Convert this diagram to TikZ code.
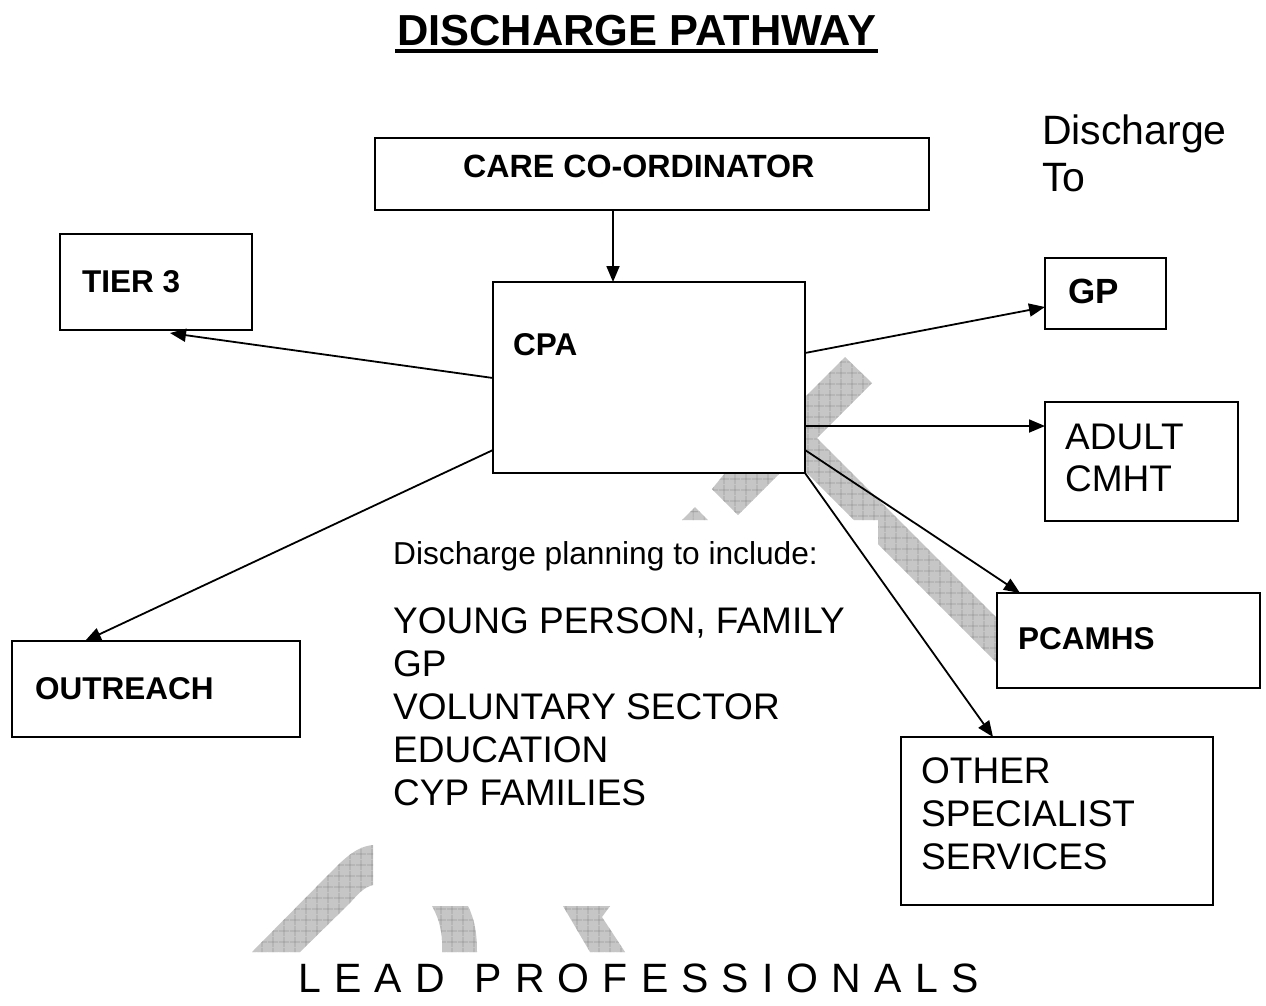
\documentclass[tikz,border=0pt]{standalone}
\usepackage{fontspec}
\setmainfont{Liberation Sans}
\usetikzlibrary{arrows.meta,calc,patterns.meta}
\begin{document}
\begin{tikzpicture}[x=1pt,y=-1pt,
  box/.style={draw=black,line width=2.3pt,fill=white,anchor=north west,inner sep=0pt,outer sep=0pt},
  blbl/.style={anchor=base west,inner sep=0pt,font=\fontsize{31.5}{38}\selectfont\bfseries},
  rlbl/.style={anchor=base west,inner sep=0pt,font=\fontsize{37}{44}\selectfont},
  arr/.style={line width=1.8pt,-{Triangle[length=16pt,width=13pt]}},
  wm/.style={fill=gray!45,postaction={pattern={Hatch[distance=10.5pt,angle=0,line width=0.7pt]},pattern color=black!40}}]
\fill[white] (0,0) rectangle (1266,1005);
\useasboundingbox (0,0) rectangle (1266,1005);
% watermark fragments
\fill[wm] (805,397) -- (845,357) -- (872,383) -- (817,438) -- (997,618) -- (997,663) -- (878,544) -- (878,520) -- (854,520) -- (805,471) -- cycle;
\fill[wm] (725,473) -- (780,473) -- (738,515) -- (712,489) -- cycle;
\fill[wm] (682,520) -- (695,507) -- (708,520) -- cycle;
\fill[wm] (252,952) -- (336,867) .. controls (352,851) and (362,846) .. (373,845) -- (373,885) .. controls (364,887) and (358,894) .. (350,903) -- (300,952) -- cycle;
\fill[wm] (432,906) -- (468,906) .. controls (475,920) and (477,935) .. (477,952) -- (442,952) .. controls (443,935) and (440,920) .. (432,906) -- cycle;
\fill[wm] (563,906) -- (610,906) -- (602,917) -- (625,952) -- (590,952) -- cycle;
% title
\node[anchor=base west,inner sep=0pt,font=\fontsize{43.4}{50}\selectfont\bfseries] (title) at (397,45) {DISCHARGE PATHWAY};
\draw[line width=4pt] ($(title.base west)+(-2,6)$) -- ($(title.base east)+(2,6)$);
% discharge to
\node[anchor=base west,inner sep=0pt,font=\fontsize{41}{48}\selectfont] (dt1) at (1042,144) {Discharge};
\node[anchor=base west,inner sep=0pt,font=\fontsize{41}{48}\selectfont] (dt2) at (1042,191) {To};
% boxes
\node[box,minimum width=554pt,minimum height=72pt] (care) at (375,138) {};
\node[box,minimum width=192pt,minimum height=96pt] (tier) at (60,234) {};
\node[box,minimum width=312pt,minimum height=191pt] (cpa) at (493,282) {};
\node[box,minimum width=121pt,minimum height=71pt] (gp) at (1045,258) {};
\node[box,minimum width=193pt,minimum height=119pt] (adult) at (1045,402) {};
\node[box,minimum width=263pt,minimum height=95pt] (pcamhs) at (997,593) {};
\node[box,minimum width=288pt,minimum height=96pt] (outreach) at (12,641) {};
\node[box,minimum width=312pt,minimum height=168pt] (other) at (901,737) {};
% box labels
\node[blbl,font=\fontsize{32.2}{38}\selectfont\bfseries] (careT) at (463,177) {CARE CO-ORDINATOR};
\node[blbl] (tierT) at (82,292) {TIER 3};
\node[blbl] (cpaT) at (513,355) {CPA};
\node[blbl,font=\fontsize{35}{42}\selectfont\bfseries] (gpT) at (1068,303) {GP};
\node[rlbl] (adultT1) at (1065,449) {ADULT};
\node[rlbl] (adultT2) at (1065,491) {CMHT};
\node[blbl] (pcamhsT) at (1018,649) {PCAMHS};
\node[blbl] (outreachT) at (35,699) {OUTREACH};
\node[rlbl] (otherT1) at (921,783) {OTHER};
\node[rlbl] (otherT2) at (921,826) {SPECIALIST};
\node[rlbl] (otherT3) at (921,869) {SERVICES};
% middle text
\node[anchor=base west,inner sep=0pt,font=\fontsize{31.7}{38}\selectfont] (plan) at (393,564) {Discharge planning to include:};
\node[rlbl] (m1) at (393,633) {YOUNG PERSON, FAMILY};
\node[rlbl] (m2) at (393,676) {GP};
\node[rlbl] (m3) at (393,719) {VOLUNTARY SECTOR};
\node[rlbl] (m4) at (393,762) {EDUCATION};
\node[rlbl] (m5) at (393,805) {CYP FAMILIES};
% lead professionals
\node[anchor=base west,inner sep=0pt,font=\fontsize{41}{48}\selectfont\addfontfeature{LetterSpace=32}] (lead) at (298,992) {LEAD\hspace{30pt}PROFESSIONALS};
% arrows
\draw[arr] ($(care.south west)+(238,0)$) -- ($(cpa.north west)+(120,0)$);
\draw[arr] ($(cpa.north west)+(0,96)$) -- ($(tier.south west)+(110,3)$);
\draw[arr] ($(cpa.north west)+(0,168)$) -- ($(outreach.north west)+(73,0)$);
\draw[arr] ($(cpa.north east)+(0,71)$) -- ($(gp.north west)+(0,49)$);
\draw[arr] ($(cpa.north east)+(0,144)$) -- ($(adult.north west)+(0,24)$);
\draw[arr] ($(cpa.north east)+(0,168)$) -- ($(pcamhs.north west)+(23,0)$);
\draw[arr] (cpa.south east) -- ($(other.north west)+(92,0)$);
\end{tikzpicture}
\end{document}
